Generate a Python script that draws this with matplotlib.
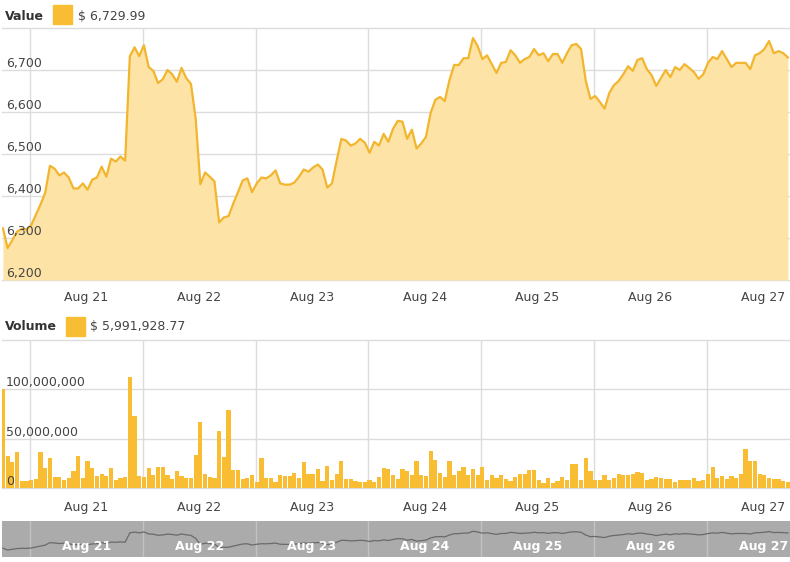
import matplotlib
matplotlib.use('Agg')
import matplotlib.pyplot as plt
import matplotlib.dates as mdates
from matplotlib.patches import Rectangle
import pandas as pd

# hourly BTC price, Aug 20 18:15 -> Aug 27 17:15
price = [
    6323, 6276, 6295, 6315, 6322, 6320, 6330, 6355, 6380, 6408,
    6472, 6465, 6449, 6456, 6444, 6418, 6418, 6430, 6415, 6439,
    6444, 6470, 6446, 6489, 6482, 6494, 6484, 6733, 6754, 6733,
    6759, 6707, 6698, 6669, 6678, 6700, 6690, 6672, 6705, 6681,
    6667, 6585, 6428, 6456, 6446, 6435, 6337, 6349, 6352, 6382,
    6409, 6437, 6442, 6409, 6430, 6444, 6442, 6449, 6461, 6430,
    6427, 6427, 6432, 6446, 6463, 6458, 6468, 6475, 6463, 6420,
    6430, 6484, 6536, 6532, 6520, 6525, 6536, 6527, 6503, 6529,
    6520, 6548, 6529, 6560, 6579, 6577, 6536, 6558, 6513, 6525,
    6541, 6598, 6629, 6636, 6626, 6676, 6712, 6712, 6728, 6728,
    6776, 6757, 6726, 6735, 6714, 6693, 6717, 6719, 6747, 6735,
    6717, 6726, 6731, 6750, 6735, 6740, 6721, 6738, 6738, 6717,
    6740, 6759, 6762, 6750, 6674, 6631, 6638, 6624, 6608, 6645,
    6664, 6674, 6690, 6709, 6698, 6724, 6728, 6702, 6688, 6662,
    6681, 6700, 6683, 6707, 6700, 6714, 6705, 6695, 6679, 6690,
    6717, 6731, 6726, 6745, 6726, 6707, 6717, 6717, 6717, 6702,
    6735, 6740, 6750, 6769, 6740, 6745, 6740, 6729.99,
]

# hourly volume in millions of dollars
volume_m = [
    100, 32, 26, 36, 7, 7, 8, 9.5, 36, 20.5,
    30, 11.5, 11.5, 8.5, 10, 17.5, 32.5, 10.5, 27.5, 20.5,
    12.5, 14.5, 12.5, 20.5, 8.5, 10, 11.5, 113, 73, 12.5,
    11.5, 20.5, 13.5, 21, 21.5, 13.5, 9.5, 17, 12.5, 10,
    10, 33.5, 67, 14.5, 11.5, 10, 58, 31.5, 79, 18,
    18.5, 9.5, 10, 13, 6, 30.5, 10.5, 10, 6.5, 13.5,
    12, 12, 15.5, 10.5, 26, 14.5, 14.5, 19.5, 7, 22.5,
    8, 14.5, 27, 9, 9, 7, 6.5, 6.5, 8.5, 6.5,
    11.5, 20.5, 19.5, 13, 9.5, 19.5, 17, 13, 27, 13,
    12, 38, 28.5, 15, 11, 27, 13.5, 17.5, 21, 13,
    19, 13, 21.5, 8.5, 13, 10, 13, 9.5, 7, 11,
    14, 14, 18.5, 18.5, 8.5, 5, 10, 5, 7, 11,
    8.5, 24.5, 24.5, 8, 30, 17.5, 8, 8, 13, 8.5,
    10, 14.5, 13, 13.5, 14, 16, 15, 8, 9.5, 11,
    10, 9.5, 9.5, 6, 8, 8, 8, 10, 7, 8,
    14, 21.5, 10, 12.5, 9.5, 12.5, 10, 14, 39.5, 27,
    27, 14, 13, 10, 9.5, 9.5, 7, 5.991928,
]

price_ticks = [6200, 6300, 6400, 6500, 6600, 6700]
volume_ticks = [0, 50_000_000, 100_000_000]
day_labels = ['Aug 21', 'Aug 22', 'Aug 23', 'Aug 24', 'Aug 25', 'Aug 26', 'Aug 27']

LINE = '#f2b52e'
FILL = '#fde4a6'
BAR = '#f8bd32'
GRID = '#dcdcdc'
TXT = '#444444'

times = pd.date_range('2018-08-20 18:15', periods=len(price), freq='h')
t = mdates.date2num(times.to_pydatetime())
hour = 1 / 24
days = mdates.date2num(pd.date_range('2018-08-21', periods=len(day_labels), freq='D').to_pydatetime())
xlim = (t[0] - 0.2 * hour, t[-1] + 0.45 * hour)

fig = plt.figure(figsize=(7.9, 5.62), dpi=100)
W, H = 790, 562


def add_axes(top, bottom):
    return fig.add_axes([2 / W, 1 - bottom / H, 788 / W, (bottom - top) / H])


def style(ax):
    ax.set_xlim(*xlim)
    for s in ax.spines.values():
        s.set_visible(False)
    ax.tick_params(length=0)
    ax.set_xticks(days)
    ax.set_xticklabels([])
    for d in days:
        ax.axvline(d, color=GRID, lw=1, zorder=0)


# --- price panel
ax1 = add_axes(28, 280)
style(ax1)
ymin, ymax = 6200, 6800
ax1.set_ylim(ymin, ymax)
ax1.set_yticks([])
for v in price_ticks + [ymax]:
    ax1.axhline(v, color=GRID, lw=1, zorder=0, clip_on=False)
for v in price_ticks:
    ax1.text(0.005, v, f'{v:,}', transform=ax1.get_yaxis_transform(),
             ha='left', va='bottom', fontsize=9, color=TXT)
ax1.fill_between(t, price, ymin, color=FILL, lw=0, zorder=1)
ax1.plot(t, price, color=LINE, lw=1.6, zorder=2)

# --- volume panel
ax2 = add_axes(340, 488)
style(ax2)
vmax = 150_000_000
ax2.set_ylim(0, vmax)
ax2.set_yticks([])
for v in volume_ticks + [vmax]:
    ax2.axhline(v, color=GRID, lw=1, zorder=0, clip_on=False)
ax2.bar(t, [v * 1e6 for v in volume_m], width=0.9 * hour, color=BAR, lw=0, zorder=1)
for v in volume_ticks:
    ax2.text(0.005, v, f'{v:,}', transform=ax2.get_yaxis_transform(),
             ha='left', va='bottom', fontsize=9, color=TXT, zorder=3)

# day labels under both panels
for d, lab in zip(days, day_labels):
    for y in (298, 507):
        fig.text(2 / W + (d + 0.5 - xlim[0]) / (xlim[1] - xlim[0]) * 788 / W, 1 - y / H,
                 lab, ha='center', va='center', fontsize=9, color=TXT)

# --- navigator
ax3 = add_axes(521, 557)
style(ax3)
ax3.set_facecolor('#ababab')
ax3.set_yticks([])
ax3.set_ylim(6090, 7050)
for line in ax3.lines:
    line.set_color('#c2c2c2')
ax3.plot(t, price, color='#6a6a6a', lw=0.9)
for d, lab in zip(days, day_labels):
    ax3.text(d + 0.5, 0.3, lab, transform=ax3.get_xaxis_transform(),
             ha='center', va='center', fontsize=9, color='white', fontweight='bold')

# --- legends
fig.text(5 / W, 1 - 17 / H, 'Value', fontsize=9, fontweight='bold', color='#333333', va='center')
fig.patches.append(Rectangle((53 / W, 1 - 24 / H), 19 / W, 19 / H, transform=fig.transFigure,
                             color=BAR, figure=fig))
fig.text(78 / W, 1 - 17 / H, f'$ {price[-1]:,.2f}', fontsize=9, color=TXT, va='center')

fig.text(5 / W, 1 - 327 / H, 'Volume', fontsize=9, fontweight='bold', color='#333333', va='center')
fig.patches.append(Rectangle((66 / W, 1 - 336 / H), 19 / W, 19 / H, transform=fig.transFigure,
                             color=BAR, figure=fig))
fig.text(90 / W, 1 - 327 / H, '$ 5,991,928.77', fontsize=9, color=TXT, va='center')

fig.savefig('out.png', dpi=100, facecolor='white')
